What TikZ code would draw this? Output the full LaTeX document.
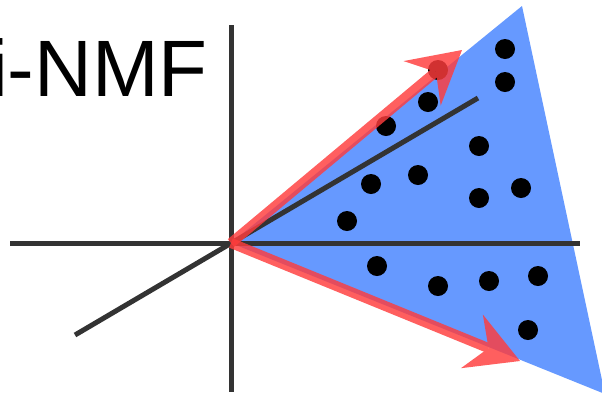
\documentclass[tikz,border=0pt]{standalone}
\usepackage{fontspec}
\setmainfont{Liberation Sans}
\usepackage{xcolor}
\usetikzlibrary{arrows.meta,positioning}
\definecolor{coneblue}{HTML}{6699FF}
\definecolor{axisgray}{HTML}{333333}
\definecolor{vecred}{HTML}{FF3C3C}
\tikzset{
  axis/.style={draw=axisgray, line width=5pt},
  pt/.style={circle, fill=black, inner sep=0pt, minimum size=20pt},
  basis/.style={draw=vecred, line width=10pt,
    -{Stealth[length=52pt, width=58pt, inset=18pt, line width=0pt]}},
}

\begin{document}
\begin{tikzpicture}[x=1pt,y=-1pt]
        \useasboundingbox (0,0) rectangle (602,392);
        \clip (0,0) rectangle (602,392);

        % Define points by coordinates
        \coordinate (O) at (231,243);
        \coordinate (T) at (522,6);
        \coordinate (R) at (605,394);
        \coordinate (xl) at (10,243);
        \coordinate (xr) at (580,243);
        \coordinate (yt) at (231,25);
        \coordinate (yb) at (231,392);
        \coordinate (zl) at (75,335);
        \coordinate (zr) at (478,98);
        \coordinate (u1) at (462,50);
        \coordinate (u2) at (520,361);

        % Title
        \node[anchor=south west, inner sep=0pt, font=\fontsize{80}{96}\selectfont] (title) at (-10,97) {i-NMF};

        % Cone
        \fill[coneblue] (O) -- (T) -- (R) -- cycle;

        % Axes
        \draw[axis] (xl) -- (xr);
        \draw[axis] (yt) -- (yb);
        \draw[axis] (zl) -- (zr);

        % Data points
        \node[pt] (d1) at (505,49) {};
        \node[pt] (d2) at (505,82) {};
        \node[pt] (d3) at (438,70) {};
        \node[pt] (d4) at (428,102) {};
        \node[pt] (d5) at (386,126) {};
        \node[pt] (d6) at (479,146) {};
        \node[pt] (d7) at (418,175) {};
        \node[pt] (d8) at (371,184) {};
        \node[pt] (d9) at (521,188) {};
        \node[pt] (d10) at (479,198) {};
        \node[pt] (d11) at (347,221) {};
        \node[pt] (d12) at (377,266) {};
        \node[pt] (d13) at (438,286) {};
        \node[pt] (d14) at (489,281) {};
        \node[pt] (d15) at (538,276) {};
        \node[pt] (d16) at (528,330) {};

        % Basis vectors
        \begin{scope}[transparency group, opacity=0.82]
          \draw[basis] (O) -- (u1);
        \end{scope}
        \begin{scope}[transparency group, opacity=0.82]
          \draw[basis] (O) -- (u2);
        \end{scope}

\end{tikzpicture}
\end{document}
